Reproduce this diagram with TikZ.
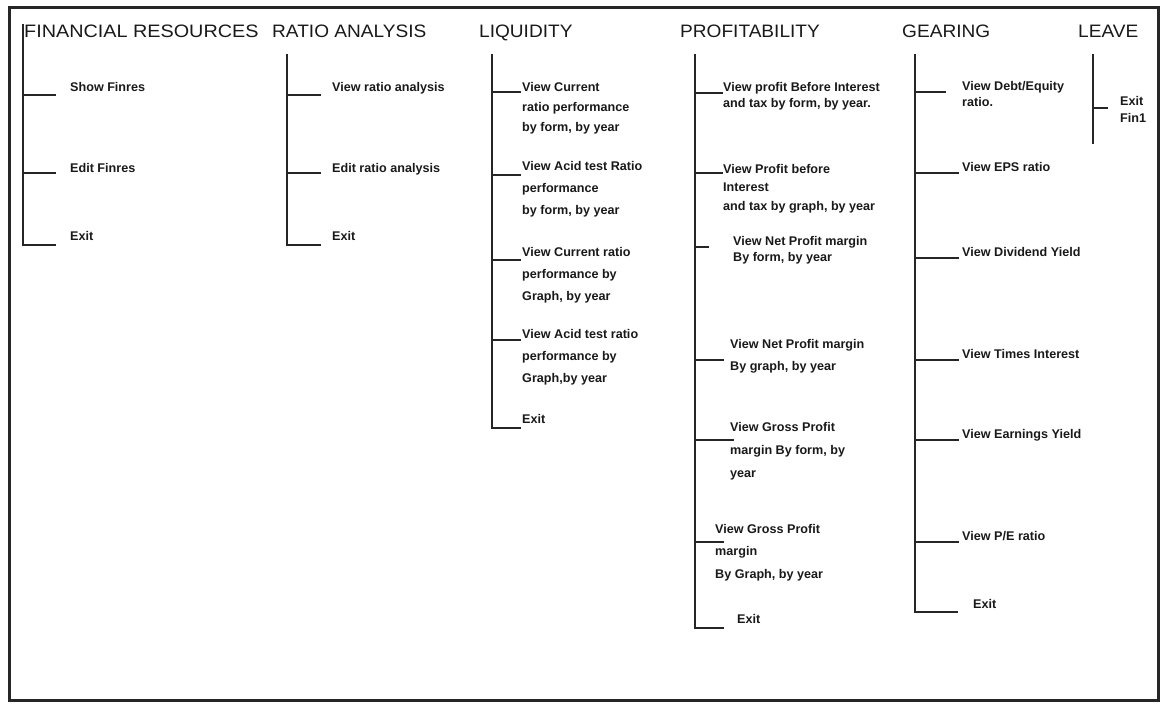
\documentclass[tikz,border=0pt]{standalone}
\usepackage{fontspec}
\setmainfont{Liberation Sans}
\newfontfamily\hdrfont[FakeStretch=1.06]{Liberation Sans}
\newfontfamily\hdrwide[FakeStretch=1.1]{Liberation Sans}
\begin{document}
\begin{tikzpicture}[x=1pt,y=-1pt,
  frame/.style={line width=3pt, draw=black!85},
  tree/.style={line width=2pt, draw=black!85, line cap=rect},
  hdr/.style={anchor=base west, inner sep=0pt, text=black!90, font=\hdrfont\fontsize{18}{20}\selectfont},
  item/.style={anchor=north west, inner sep=0pt, align=left, text=black!90, font=\bfseries\fontsize{12.6}{#1}\selectfont},
  item/.default=18
]
\useasboundingbox (0,0) rectangle (1163,708);
\draw[frame] (9,8) rectangle (1158,700);

% ---------- FINANCIAL RESOURCES ----------
\node[hdr, font=\hdrwide\fontsize{18}{20}\selectfont] (frh) at (24,38) {FINANCIAL RESOURCES};
\coordinate (frt) at (23,25);
\coordinate (frb) at (23,245);
\node[item] (fr1) at (70,82) {Show Finres};
\node[item] (fr2) at (70,163) {Edit Finres};
\node[item] (fr3) at (70,231) {Exit};
\coordinate (fr1e) at (55,95);
\coordinate (fr2e) at (55,173);
\coordinate (fr3e) at (55,245);
\draw[tree] (frt) -- (frb) -- (fr3e);
\draw[tree] (frt |- fr1e) -- (fr1e);
\draw[tree] (frt |- fr2e) -- (fr2e);

% ---------- RATIO ANALYSIS ----------
\node[hdr] (rah) at (272,38) {RATIO ANALYSIS};
\coordinate (rat) at (287,55);
\coordinate (rab) at (287,245);
\node[item] (ra1) at (332,82) {View ratio analysis};
\node[item] (ra2) at (332,163) {Edit ratio analysis};
\node[item] (ra3) at (332,231) {Exit};
\coordinate (ra1e) at (320,95);
\coordinate (ra2e) at (320,173);
\coordinate (ra3e) at (320,245);
\draw[tree] (rat) -- (rab) -- (ra3e);
\draw[tree] (rat |- ra1e) -- (ra1e);
\draw[tree] (rat |- ra2e) -- (ra2e);

% ---------- LIQUIDITY ----------
\node[hdr] (lqh) at (479,38) {LIQUIDITY};
\coordinate (lqt) at (492,55);
\coordinate (lqb) at (492,428);
\node[item=20] (lq1) at (522,82) {View Current\\ratio performance\\by form, by year};
\node[item=22] (lq2) at (522,161) {View Acid test Ratio\\performance\\by form, by year};
\node[item=22] (lq3) at (522,247) {View Current ratio\\performance by\\Graph, by year};
\node[item=22] (lq4) at (522,329) {View Acid test ratio\\performance by\\Graph,by year};
\node[item] (lq5) at (522,414) {Exit};
\coordinate (lq1e) at (520,92);
\coordinate (lq2e) at (520,175);
\coordinate (lq3e) at (520,260);
\coordinate (lq4e) at (520,340);
\coordinate (lq5e) at (520,428);
\draw[tree] (lqt) -- (lqb) -- (lq5e);
\draw[tree] (lqt |- lq1e) -- (lq1e);
\draw[tree] (lqt |- lq2e) -- (lq2e);
\draw[tree] (lqt |- lq3e) -- (lq3e);
\draw[tree] (lqt |- lq4e) -- (lq4e);

% ---------- PROFITABILITY ----------
\node[hdr] (prh) at (680,38) {PROFITABILITY};
\coordinate (prt) at (695,55);
\coordinate (prb) at (695,628);
\node[item=16] (pr1) at (723,82) {View profit Before Interest\\and tax by form, by year.};
\node[item=18.5] (pr2) at (723,164) {View Profit before\\Interest\\and tax by graph, by year};
\node[item=16] (pr3) at (733,236) {View Net Profit margin\\By form, by year};
\node[item=22] (pr4) at (730,339) {View Net Profit margin\\By graph, by year};
\node[item=23] (pr5) at (730,422) {View Gross Profit\\margin By form, by\\year};
\node[item=22.5] (pr6) at (715,524) {View Gross Profit\\margin\\By Graph, by year};
\node[item] (pr7) at (737,614) {Exit};
\coordinate (pr1e) at (722,93);
\coordinate (pr2e) at (722,173);
\coordinate (pr3e) at (708,247);
\coordinate (pr4e) at (723,360);
\coordinate (pr5e) at (733,440);
\coordinate (pr6e) at (723,542);
\coordinate (pr7e) at (723,628);
\draw[tree] (prt) -- (prb) -- (pr7e);
\draw[tree] (prt |- pr1e) -- (pr1e);
\draw[tree] (prt |- pr2e) -- (pr2e);
\draw[tree] (prt |- pr3e) -- (pr3e);
\draw[tree] (prt |- pr4e) -- (pr4e);
\draw[tree] (prt |- pr5e) -- (pr5e);
\draw[tree] (prt |- pr6e) -- (pr6e);

% ---------- GEARING ----------
\node[hdr] (geh) at (902,38) {GEARING};
\coordinate (get) at (915,55);
\coordinate (geb) at (915,612);
\node[item=16] (ge1) at (962,81) {View Debt/Equity\\ratio.};
\node[item] (ge2) at (962,162) {View EPS ratio};
\node[item] (ge3) at (962,247) {View Dividend Yield};
\node[item] (ge4) at (962,349) {View Times Interest};
\node[item] (ge5) at (962,429) {View Earnings Yield};
\node[item] (ge6) at (962,531) {View P/E ratio};
\node[item] (ge7) at (973,599) {Exit};
\coordinate (ge1e) at (945,92);
\coordinate (ge2e) at (958,173);
\coordinate (ge3e) at (958,258);
\coordinate (ge4e) at (958,360);
\coordinate (ge5e) at (958,440);
\coordinate (ge6e) at (958,542);
\coordinate (ge7e) at (957,612);
\draw[tree] (get) -- (geb) -- (ge7e);
\draw[tree] (get |- ge1e) -- (ge1e);
\draw[tree] (get |- ge2e) -- (ge2e);
\draw[tree] (get |- ge3e) -- (ge3e);
\draw[tree] (get |- ge4e) -- (ge4e);
\draw[tree] (get |- ge5e) -- (ge5e);
\draw[tree] (get |- ge6e) -- (ge6e);

% ---------- LEAVE ----------
\node[hdr] (lvh) at (1078,38) {LEAVE};
\coordinate (lvt) at (1093,55);
\coordinate (lvb) at (1093,143);
\node[item=17] (lv1) at (1120,96) {Exit\\Fin1};
\coordinate (lv1e) at (1107,108);
\draw[tree] (lvt) -- (lvb);
\draw[tree] (lvt |- lv1e) -- (lv1e);
\end{tikzpicture}
\end{document}
